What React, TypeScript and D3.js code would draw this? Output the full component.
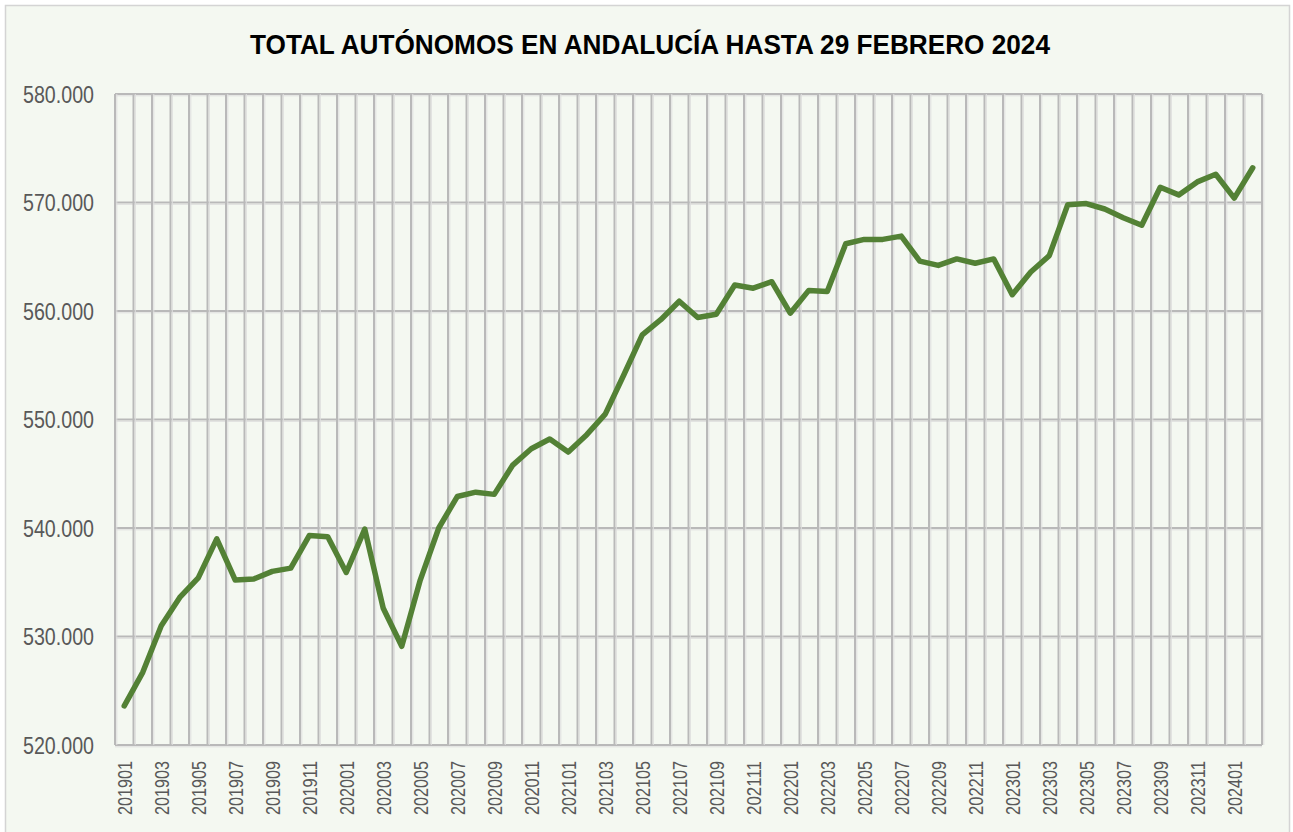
import React from "react";
import * as d3 from "d3";

const months: string[] = [
  "201901","201902","201903","201904","201905","201906","201907","201908","201909","201910","201911","201912",
  "202001","202002","202003","202004","202005","202006","202007","202008","202009","202010","202011","202012",
  "202101","202102","202103","202104","202105","202106","202107","202108","202109","202110","202111","202112",
  "202201","202202","202203","202204","202205","202206","202207","202208","202209","202210","202211","202212",
  "202301","202302","202303","202304","202305","202306","202307","202308","202309","202310","202311","202312",
  "202401","202402",
];

const autonomos: number[] = [
  523600, 526700, 531000, 533600, 535400, 539000, 535200, 535300, 536000, 536300, 539300, 539200,
  535900, 539900, 532600, 529100, 535200, 540000, 542900, 543300, 543100, 545800, 547300, 548200,
  547000, 548600, 550500, 554100, 557800, 559200, 560900, 559400, 559700, 562400, 562100, 562700,
  559800, 561900, 561800, 566200, 566600, 566600, 566900, 564600, 564200, 564800, 564400, 564800,
  561500, 563600, 565100, 569800, 569900, 569400, 568600, 567900, 571400, 570700, 571900, 572600,
  570400, 573200,
];

const yTicks: number[] = [520000, 530000, 540000, 550000, 560000, 570000, 580000];

const title = "TOTAL AUTÓNOMOS EN ANDALUCÍA HASTA 29 FEBRERO 2024";

const W = 1293;
const H = 832;
const plot = { left: 115, right: 1262, top: 94, bottom: 745 };

const fmt = (v: number) => d3.format(",")(v).replace(/,/g, ".");

export default function App() {
  const x = d3
    .scaleBand<string>()
    .domain(months)
    .range([plot.left, plot.right]);
  const y = d3.scaleLinear().domain([520000, 580000]).range([plot.bottom, plot.top]);
  const line = d3
    .line<number>()
    .x((_, i) => (x(months[i]) as number) + x.bandwidth() / 2)
    .y((d) => y(d));

  const boundaries = months.map((m) => x(m) as number).concat([plot.right]);
  const font = "'Liberation Sans Narrow', 'Liberation Sans', Arial, sans-serif";

  return (
    <svg
      width={W}
      height={H}
      style={{ position: "absolute", left: 0, top: 0, display: "block" }}
    >
      <rect x={0} y={0} width={W} height={H} fill="#ffffff" />
      <rect x={5.5} y={5.5} width={1284} height={H + 10} fill="#f4f8f1" stroke="#d4d4d4" strokeWidth={1.5} />

      {/* horizontal gridlines */}
      {yTicks.map((t) => (
        <g key={"h" + t}>
          <line x1={plot.left} x2={plot.right} y1={y(t)} y2={y(t)} stroke="#b9b9b9" strokeWidth={2} />
          <line x1={plot.left} x2={plot.right} y1={y(t) + 1.8} y2={y(t) + 1.8} stroke="#dedede" strokeWidth={1} />
        </g>
      ))}
      {/* vertical gridlines */}
      {boundaries.map((bx, i) => (
        <g key={"v" + i}>
          <line x1={bx} x2={bx} y1={plot.top} y2={plot.bottom} stroke="#b9b9b9" strokeWidth={2} />
          <line x1={bx + 1.8} x2={bx + 1.8} y1={plot.top} y2={plot.bottom} stroke="#dedede" strokeWidth={1} />
        </g>
      ))}

      {/* y axis labels */}
      {yTicks.map((t) => (
        <text
          key={"yl" + t}
          x={94}
          y={y(t)}
          textAnchor="end"
          dominantBaseline="central"
          fontFamily={font}
          fontSize={24}
          fill="#595959"
          textLength={71}
          lengthAdjust="spacingAndGlyphs"
        >
          {fmt(t)}
        </text>
      ))}

      {/* x axis labels */}
      {months.map((m, i) =>
        i % 2 === 0 ? (
          <text
            key={"xl" + m}
            transform={`translate(${(x(m) as number) + x.bandwidth() / 2},${761}) rotate(-90)`}
            textAnchor="end"
            dominantBaseline="central"
            fontFamily={font}
            fontSize={20.5}
            fill="#595959"
            textLength={54}
            lengthAdjust="spacingAndGlyphs"
          >
            {m}
          </text>
        ) : null
      )}

      <path
        d={line(autonomos) || ""}
        fill="none"
        stroke="#538135"
        strokeWidth={5.5}
        strokeLinejoin="round"
        strokeLinecap="round"
      />

      <text
        x={650}
        y={54}
        textAnchor="middle"
        fontFamily={font}
        fontWeight="bold"
        fontSize={27}
        fill="#000000"
        textLength={800}
        lengthAdjust="spacingAndGlyphs"
      >
        {title}
      </text>
    </svg>
  );
}
